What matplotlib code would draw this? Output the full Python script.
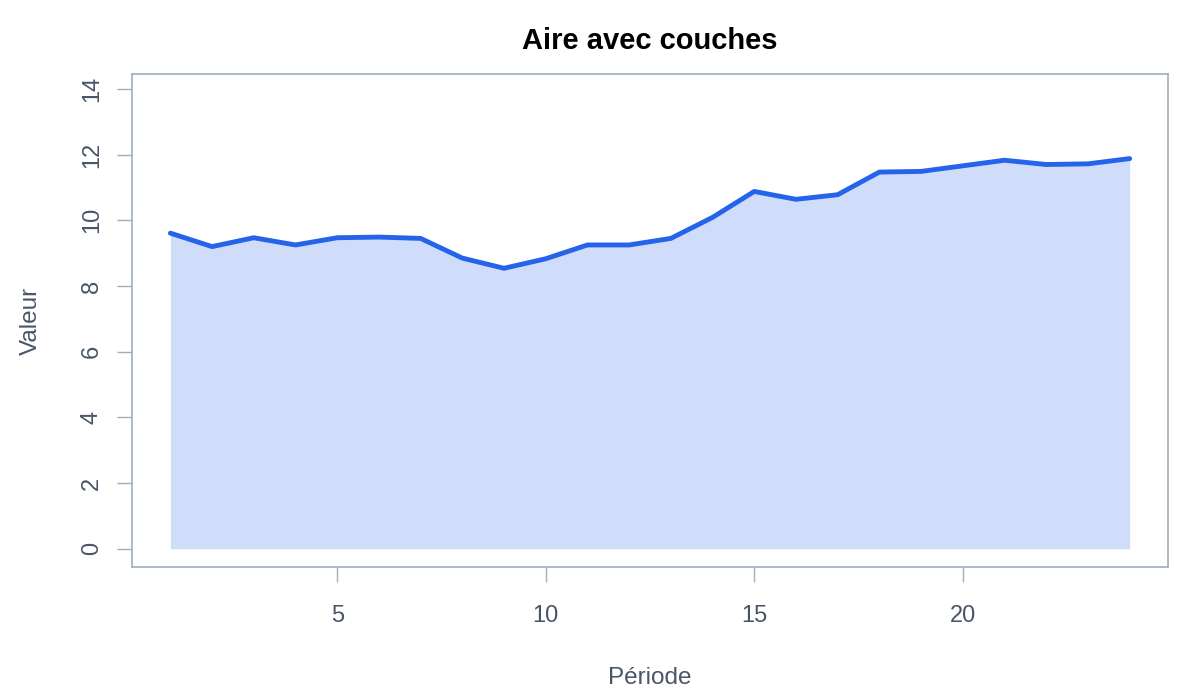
import matplotlib
matplotlib.use("Agg")
import matplotlib.pyplot as plt

plt.rcParams['font.family'] = ['Liberation Sans', 'DejaVu Sans']

# data
periode = list(range(1, 25))
valeur = [9.61, 9.20, 9.47, 9.25, 9.47, 9.49, 9.45, 8.85, 8.54, 8.83, 9.25, 9.25,
          9.45, 10.09, 10.88, 10.64, 10.78, 11.47, 11.49, 11.66, 11.83, 11.70, 11.72, 11.88]
x_ticks = [5, 10, 15, 20]
y_ticks = [0, 2, 4, 6, 8, 10, 12, 14]

LINE = "#2563EB"
BOX = "#A0AEC0"
TXT = "#4A5568"

fig = plt.figure(figsize=(12, 7), dpi=100)
ax = fig.add_axes([132 / 1200, 1 - 567 / 700, (1168 - 132) / 1200, (567 - 74) / 700])

ax.fill_between(periode, 0, valeur, color=LINE, alpha=0.21, linewidth=0)
ax.plot(periode, valeur, color=LINE, linewidth=3.5, solid_capstyle='round', solid_joinstyle='round')

ax.set_xlim(0.08, 24.92)
ax.set_ylim(-0.556, 14.456)
ax.set_xticks(x_ticks)
ax.set_yticks(y_ticks)
ax.set_yticklabels([str(v) for v in y_ticks], rotation=90, va='center')

for s in ax.spines.values():
    s.set_color(BOX)
    s.set_linewidth(1.2)
ax.tick_params(axis='both', colors=BOX, labelcolor=TXT, labelsize=17, length=11, width=1)
ax.tick_params(axis='x', pad=16)
ax.tick_params(axis='y', pad=10)

ax.set_xlabel("Période", fontsize=17.5, color=TXT, labelpad=29)
ax.set_ylabel("Valeur", fontsize=17.5, color=TXT, labelpad=28)
fig.text(650 / 1200, 1 - 41 / 700, "Aire avec couches", fontsize=21, fontweight='bold',
         ha='center', va='center', color='black')

fig.savefig("out.png", dpi=100)
